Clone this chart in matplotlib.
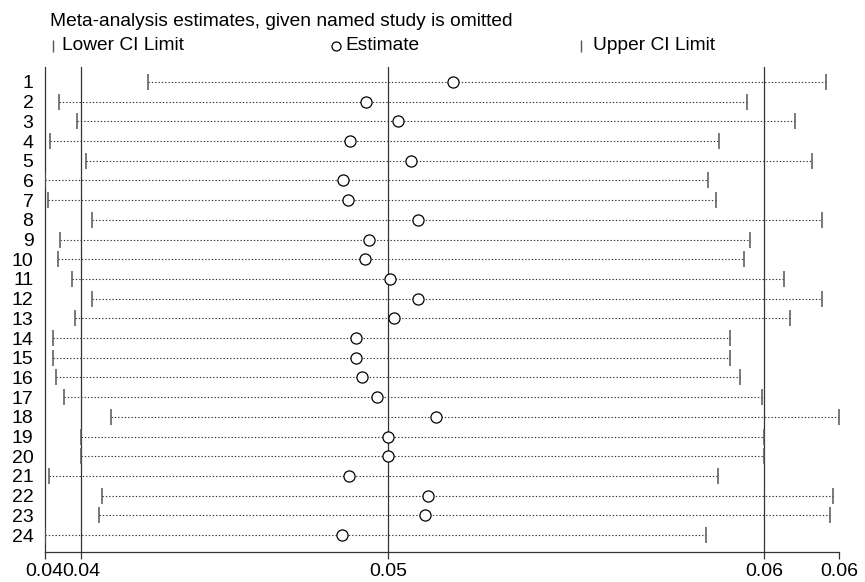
import matplotlib
matplotlib.use("Agg")
import matplotlib.pyplot as plt
from matplotlib.lines import Line2D

plt.rcParams["font.family"] = ["Liberation Sans", "DejaVu Sans"]

# leave-one-out estimates (study omitted), with 95% CI
studies = [str(i) for i in range(1, 25)]
lower = [0.04282, 0.04015, 0.04071, 0.03988, 0.04097, 0.03973, 0.03984, 0.04115,
         0.04018, 0.04012, 0.04056, 0.04115, 0.04064, 0.03997, 0.03997, 0.04007,
         0.04031, 0.04171, 0.04082, 0.04082, 0.03987, 0.04144, 0.04135, 0.03974]
estimate = [0.05196, 0.04935, 0.05030, 0.04886, 0.05069, 0.04865, 0.04880, 0.05089,
            0.04942, 0.04932, 0.05007, 0.05089, 0.05019, 0.04906, 0.04906, 0.04922,
            0.04966, 0.05144, 0.05000, 0.05000, 0.04884, 0.05119, 0.05111, 0.04862]
upper = [0.06309, 0.06073, 0.06217, 0.05991, 0.06269, 0.05956, 0.05981, 0.06297,
         0.06083, 0.06066, 0.06186, 0.06297, 0.06202, 0.06024, 0.06024, 0.06052,
         0.06120, 0.06349, 0.06124, 0.06124, 0.05988, 0.06331, 0.06323, 0.05950]

# pooled estimate and CI (reference lines)
overall = [0.04082, 0.05000, 0.06124]

W, H = 865, 582
fig = plt.figure(figsize=(W / 100, H / 100), dpi=100)
ax = fig.add_axes([44.5 / W, 30 / H, (839 - 44.5) / W, (552 - 67) / H])

rows = list(range(1, len(studies) + 1))
grey = "#555555"

for v in overall:
    ax.axvline(v, color="#333333", linewidth=0.9, zorder=1)

for y, lo, est, hi in zip(rows, lower, estimate, upper):
    ax.plot([lo, hi], [y, y], linestyle=(0, (1.2, 1.8)), color="#333333", linewidth=0.8, zorder=2)
ax.plot(lower, rows, linestyle="none", marker="|", markersize=11, markeredgewidth=1.1,
        color=grey, zorder=3)
ax.plot(upper, rows, linestyle="none", marker="|", markersize=11, markeredgewidth=1.1,
        color=grey, zorder=3)
ax.plot(estimate, rows, linestyle="none", marker="o", markersize=8, markerfacecolor="white",
        markeredgecolor="black", markeredgewidth=0.9, zorder=4)

xmin, xmax = min(lower), max(upper)
ax.set_xlim(xmin, xmax)
ax.set_ylim(24.86, 0.24)

xt = [xmin] + overall + [xmax]
ax.set_xticks(xt)
ax.set_xticklabels(["%.2f" % v for v in xt], fontsize=14)
ax.tick_params(axis="x", direction="out", length=5, width=0.9, color="#333333", pad=3)

ax.set_yticks(rows)
ax.set_yticklabels(studies, fontsize=14)
ax.tick_params(axis="y", length=0, pad=8)

for side in ["top", "right"]:
    ax.spines[side].set_visible(False)
for side in ["left", "bottom"]:
    ax.spines[side].set_linewidth(0.9)
    ax.spines[side].set_color("#333333")

# title and key
fig.text(50 / W, 1 - 21 / H, "Meta-analysis estimates, given named study is omitted",
         fontsize=13.8, va="center", ha="left")
ky = 1 - 46 / H
fig.add_artist(Line2D([53 / W], [ky], marker="|", markersize=8, color=grey,
                      transform=fig.transFigure))
fig.text(62 / W, ky, "Lower CI Limit", fontsize=13.8, va="center", ha="left")
fig.add_artist(Line2D([336 / W], [ky], marker="o", markersize=6.5, markerfacecolor="white",
                      markeredgecolor="black", markeredgewidth=0.9, transform=fig.transFigure))
fig.text(345 / W, ky, "Estimate", fontsize=13.8, va="center", ha="left")
fig.add_artist(Line2D([581 / W], [ky], marker="|", markersize=8, color=grey,
                      transform=fig.transFigure))
fig.text(593 / W, ky, "Upper CI Limit", fontsize=13.8, va="center", ha="left")

fig.savefig("out.png", dpi=100)
